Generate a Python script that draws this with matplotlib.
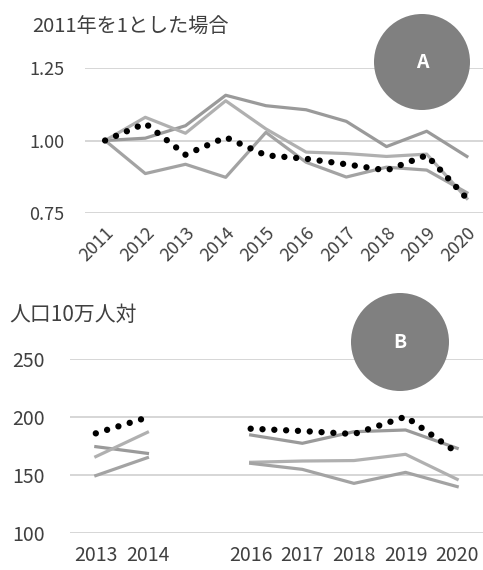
import matplotlib
matplotlib.use('Agg')
import matplotlib.pyplot as plt
from matplotlib.patches import Circle
import numpy as np

plt.rcParams['font.family'] = ['Noto Sans CJK JP', 'DejaVu Sans']

# chart A: ratio to 2011
years_a = ['2011', '2012', '2013', '2014', '2015', '2016', '2017', '2018', '2019', '2020']
a_line1 = [1.00, 1.008, 1.051, 1.156, 1.12, 1.106, 1.066, 0.979, 1.032, 0.945]
a_line2 = [1.00, 1.08, 1.025, 1.137, 1.04, 0.96, 0.955, 0.945, 0.953, 0.80]
a_line3 = [1.00, 0.886, 0.918, 0.873, 1.028, 0.925, 0.874, 0.908, 0.898, 0.82]
a_dots = [1.00, 1.059, 0.951, 1.011, 0.949, 0.937, 0.918, 0.897, 0.949, 0.80]

# chart B: per 100k population (2015 missing)
years_b = ['2013', '2014', '2015', '2016', '2017', '2018', '2019', '2020']
b_line1 = [174.3, 168.5, np.nan, 184.4, 177.2, 187.2, 188.7, 172.9]
b_line2 = [165.7, 186.7, np.nan, 160.8, 161.9, 162.3, 167.7, 146.1]
b_line3 = [149.3, 164.8, np.nan, 159.9, 154.7, 142.6, 152.1, 139.8]
b_dots = [185.8, 199.6, np.nan, 189.8, 187.8, 185.2, 200.2, 169.1]

W, H = 483, 570
fig = plt.figure(figsize=(W / 100, H / 100), dpi=100)

line_colors = ['#9a9a9a', '#b0b0b0', '#a3a3a3']
grid_color = '#d0d0d0'
text_color = '#404040'
dot_style = dict(color='black', linewidth=4.6, linestyle=(0, (0.001, 1.85)),
                 dash_capstyle='round')


def setup(ax, ylim, yticks, fmt, size):
    ax.set_ylim(*ylim)
    ax.set_yticks(yticks)
    ax.set_yticklabels([fmt.format(v) for v in yticks], fontsize=size, color=text_color)
    ax.grid(axis='y', color=grid_color, linewidth=1.2)
    ax.set_axisbelow(True)
    for s in ax.spines.values():
        s.set_visible(False)
    ax.tick_params(length=0)


# chart A
ax1 = fig.add_axes([85 / W, 1 - 213 / H, 402 / W, 145 / H])
x = np.arange(len(years_a))
for vals, c in zip([a_line1, a_line2, a_line3], line_colors):
    ax1.plot(x, vals, color=c, linewidth=2.3)
ax1.plot(x, a_dots, **dot_style)
ax1.set_xlim(-0.5, len(years_a) - 0.5)
setup(ax1, (0.75, 1.25), [0.75, 1.00, 1.25], '{:.2f}', 13)
ax1.tick_params(axis='y', pad=15)
ax1.set_xticks(x)
ax1.set_xticklabels(years_a, rotation=45, ha='right', va='top',
                    rotation_mode='anchor', fontsize=13, color=text_color)
ax1.tick_params(axis='x', pad=8)
fig.text(32 / W, 1 - 27 / H, '2011年を1とした場合', fontsize=14.5,
         color=text_color, va='center', ha='left')

# chart B
ax2 = fig.add_axes([70 / W, 1 - 532.7 / H, 413 / W, 173.7 / H])
xb = np.arange(len(years_b))
for vals, c in zip([b_line1, b_line2, b_line3], line_colors):
    ax2.plot(xb, vals, color=c, linewidth=2.3)
ax2.plot(xb, b_dots, **dot_style)
ax2.set_xlim(-0.5, len(years_b) - 0.5)
setup(ax2, (100, 250), [100, 150, 200, 250], '{:.0f}', 14)
ax2.tick_params(axis='y', pad=18)
ax2.set_xticks(xb)
ax2.set_xticklabels([y if y != '2015' else '' for y in years_b],
                    fontsize=14, color=text_color)
ax2.tick_params(axis='x', pad=9)
fig.text(9 / W, 1 - 315 / H, '人口10万人対', fontsize=15,
         color=text_color, va='center', ha='left')

# labelled circles
for label, cx, cy, r in [('A', 422, 62, 48), ('B', 400, 342, 49)]:
    circ = Circle((cx / 100, (H - cy) / 100), r / 100, transform=fig.dpi_scale_trans,
                  facecolor='#808080', edgecolor='none', zorder=5)
    fig.add_artist(circ)
    fig.text(cx / W, 1 - cy / H, label, color='white', fontsize=14,
             fontweight='bold', ha='center', va='center', zorder=6)

fig.savefig('out.png', dpi=100)
